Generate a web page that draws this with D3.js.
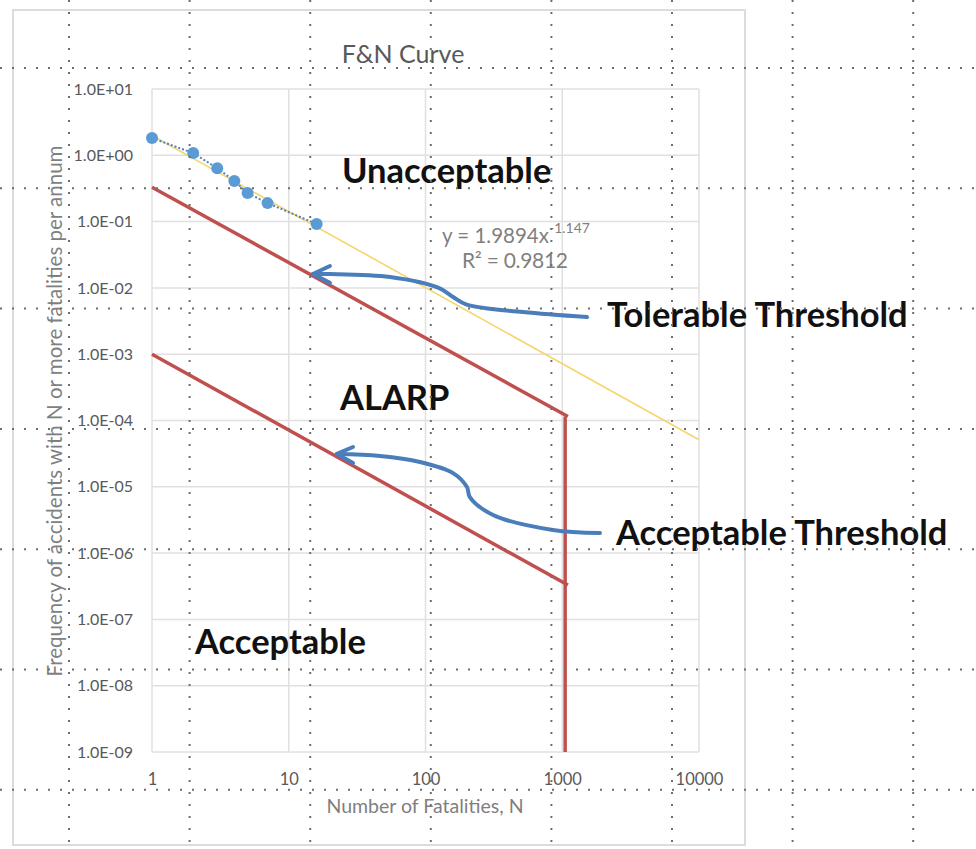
<!DOCTYPE html>
<html lang="en">
<head>
<meta charset="UTF-8">
<title>F&amp;N Curve</title>
<script src="https://cdn.jsdelivr.net/npm/d3@7/dist/d3.min.js"></script>
<style>
  body { margin: 0; background: #fff; }
  svg { display: block; font-family: Lato, "Open Sans", sans-serif; }
</style>
</head>
<body>
<svg width="976" height="849"></svg>
<script>
// ---- data ----
const xTicks = [1, 10, 100, 1000, 10000];
const xTickLabels = ["1", "10", "100", "1000", "10000"];
const yTicks = [1e1, 1e0, 1e-1, 1e-2, 1e-3, 1e-4, 1e-5, 1e-6, 1e-7, 1e-8, 1e-9];
const yTickLabels = ["1.0E+01", "1.0E+00", "1.0E-01", "1.0E-02", "1.0E-03", "1.0E-04",
                     "1.0E-05", "1.0E-06", "1.0E-07", "1.0E-08", "1.0E-09"];

const fatalities = [1, 2, 3, 4, 5, 7, 16];
const frequency = [1.82, 1.08, 0.64, 0.41, 0.27, 0.19, 0.092];

// power trendline y = a * x^b
const trendA = 1.9894, trendB = -1.147;
const trendRange = [1, 10000];

const tolerableLine = [[1, 0.33], [1100, 1.15e-4]];
const acceptableLine = [[1, 1.0e-3], [1100, 3.3e-7]];
const cutoffLine = [[1050, 1.15e-4], [1050, 1e-9]];

const tolerableArrow = [[1517, 3.64e-3], [516, 4.33e-3], [200, 5.6e-3], [159, 7.29e-3],
                        [125, 1.0e-2], [55, 1.46e-2], [20, 1.62e-2], [15, 1.62e-2]];
const tolerableHead = [[20, 2.14e-2], [15, 1.62e-2], [20, 1.19e-2]];
const acceptableArrow = [[1888, 2.01e-6], [856, 2.23e-6], [312, 3.76e-6], [211, 7.0e-6],
                         [201, 9.9e-6], [159, 1.61e-5], [91, 2.37e-5], [46.5, 2.92e-5], [22.5, 3.13e-5]];
const acceptableHead = [[29.5, 3.98e-5], [22.5, 3.13e-5], [29.5, 2.29e-5]];

// ---- layout ----
const svg = d3.select("svg");
const W = 976, H = 849;
const plot = { left: 152, right: 699, top: 89, bottom: 752 };

const x = d3.scaleLog().domain([1, 10000]).range([plot.left, plot.right]);
const y = d3.scaleLog().domain([1e-9, 10]).range([plot.bottom, plot.top]);

// outer chart frame
svg.append("rect")
  .attr("x", 13).attr("y", 10).attr("width", 732).attr("height", 835)
  .attr("fill", "none").attr("stroke", "#dcdcdc").attr("stroke-width", 2);

// plot gridlines
const grid = svg.append("g").attr("stroke", "#e0e0e0").attr("stroke-width", 1.5);
grid.selectAll("line.h").data(yTicks).join("line")
  .attr("x1", plot.left).attr("x2", plot.right)
  .attr("y1", d => y(d)).attr("y2", d => y(d));
grid.selectAll("line.v").data(xTicks).join("line")
  .attr("y1", plot.top).attr("y2", plot.bottom)
  .attr("x1", d => x(d)).attr("x2", d => x(d));

// axes
const yAxis = svg.append("g").attr("transform", `translate(${plot.left - 16},0)`)
  .call(d3.axisLeft(y).tickValues(yTicks).tickSize(0).tickFormat((d, i) => yTickLabels[i]));
yAxis.select(".domain").remove();
yAxis.selectAll("text").attr("fill", "#595959")
  .attr("font-family", "Lato, sans-serif").style("font-size", "16px");

const xAxis = svg.append("g").attr("transform", `translate(0,${plot.bottom + 18})`)
  .call(d3.axisBottom(x).tickValues(xTicks).tickSize(0).tickFormat((d, i) => xTickLabels[i]));
xAxis.select(".domain").remove();
xAxis.selectAll("text").attr("fill", "#595959")
  .attr("font-family", "Lato, sans-serif").style("font-size", "16.5px");

// titles
svg.append("text").attr("x", 403).attr("y", 63).attr("text-anchor", "middle")
  .attr("fill", "#595959").attr("font-size", 25).text("F&N Curve");
svg.append("text").attr("x", 425).attr("y", 813).attr("text-anchor", "middle")
  .attr("fill", "#7f7f7f").attr("font-size", 19.5).text("Number of Fatalities, N");
svg.append("text").attr("transform", "translate(62,411) rotate(-90)").attr("text-anchor", "middle")
  .attr("fill", "#7f7f7f").attr("font-size", 20.5)
  .text("Frequency of accidents with N or more fatalities per annum");

const line = d3.line().x(d => x(d[0])).y(d => y(d[1]));

// trendline
svg.append("path")
  .attr("d", line(trendRange.map(n => [n, trendA * Math.pow(n, trendB)])))
  .attr("fill", "none").attr("stroke", "#f7d56e").attr("stroke-width", 1.6);

// series dotted line + markers
const pts = fatalities.map((n, i) => [n, frequency[i]]);
svg.append("path").attr("d", line(pts))
  .attr("fill", "none").attr("stroke", "#4f81bd").attr("stroke-width", 2)
  .attr("stroke-dasharray", "2,2");
svg.selectAll("circle.pt").data(pts).join("circle")
  .attr("cx", d => x(d[0])).attr("cy", d => y(d[1])).attr("r", 6)
  .attr("fill", "#5b9bd5");

// equation
const eq = svg.append("text").attr("x", 442).attr("y", 243).attr("fill", "#7f7f7f").attr("font-size", 20.5);
eq.append("tspan").text("y = 1.9894x");
eq.append("tspan").attr("dy", -10).attr("font-size", 14).text("-1.147");
svg.append("text").attr("x", 462).attr("y", 268).attr("fill", "#7f7f7f").attr("font-size", 21)
  .attr("textLength", 106).text("R² = 0.9812");

// threshold lines
[tolerableLine, acceptableLine, cutoffLine].forEach(seg => {
  svg.append("path").attr("d", line(seg))
    .attr("fill", "none").attr("stroke", "#c0504d").attr("stroke-width", 3.5)
    .attr("stroke-linecap", "butt");
});

// arrows
const curve = d3.line().x(d => x(d[0])).y(d => y(d[1])).curve(d3.curveCatmullRom.alpha(0.5));
[[tolerableArrow, tolerableHead], [acceptableArrow, acceptableHead]].forEach(([body, head]) => {
  svg.append("path").attr("d", curve(body))
    .attr("fill", "none").attr("stroke", "#4a7ebb").attr("stroke-width", 4)
    .attr("stroke-linecap", "round");
  svg.append("path").attr("d", line(head))
    .attr("fill", "none").attr("stroke", "#4a7ebb").attr("stroke-width", 4)
    .attr("stroke-linecap", "round").attr("stroke-linejoin", "round");
});

// region labels
const labels = [
  { t: "Unacceptable", x: 342, y: 183 },
  { t: "ALARP", x: 340, y: 410 },
  { t: "Acceptable", x: 195, y: 654 },
  { t: "Tolerable Threshold", x: 607, y: 327 },
  { t: "Acceptable Threshold", x: 616, y: 545 }
];
svg.selectAll("text.lab").data(labels).join("text")
  .attr("x", d => d.x).attr("y", d => d.y)
  .attr("font-size", 34.5).attr("font-weight", "bold").attr("fill", "#111")
  .text(d => d.t);

// dotted page grid drawn over everything
const dots = svg.append("g").attr("stroke", "#6e6e6e").attr("stroke-width", 2)
  .attr("stroke-dasharray", "2,10");
dots.selectAll("line.dv").data(d3.range(8)).join("line")
  .attr("x1", i => 69 + i * 120.6).attr("x2", i => 69 + i * 120.6)
  .attr("y1", 0).attr("y2", H);
dots.selectAll("line.dh").data(d3.range(7)).join("line")
  .attr("y1", i => 68 + i * 120.3).attr("y2", i => 68 + i * 120.3)
  .attr("x1", 0).attr("x2", W);
</script>
</body>
</html>
